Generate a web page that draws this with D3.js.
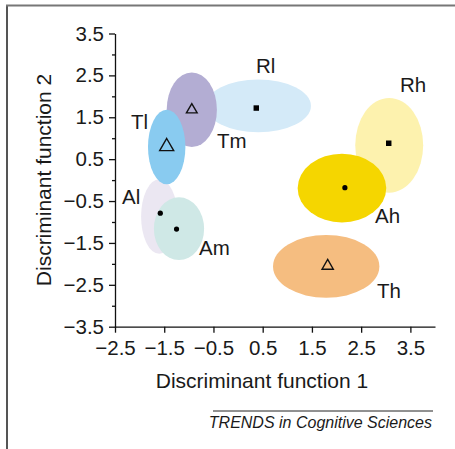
<!DOCTYPE html>
<html>
<head>
<meta charset="utf-8">
<script src="https://cdn.jsdelivr.net/npm/d3@7"></script>
<style>
  body { margin: 0; background: #fff; }
  svg text { font-family: 'Liberation Sans', Arial, sans-serif; fill: #1a1a1a; }
</style>
</head>
<body>
<svg width="455" height="449"></svg>
<script>
// group names, in drawing order (back to front)
const groups = ['Rl', 'Tm', 'Al', 'Tl', 'Am', 'Rh', 'Ah', 'Th'];

// ellipse centres and half-widths, in discriminant units
const ellipseX = [0.41, -0.94, -1.6, -1.45, -1.2, 3.07, 2.11, 1.79];
const ellipseY = [1.77, 1.68, -0.87, 0.79, -1.16, 0.83, -0.19, -2.06];
const ellipseRx = [1.07, 0.51, 0.37, 0.38, 0.51, 0.69, 0.9, 1.08];
const ellipseRy = [0.63, 0.89, 0.89, 0.89, 0.75, 1.13, 0.82, 0.75];

// group means (marker positions)
const meanX = [0.37, -0.94, -1.58, -1.45, -1.25, 3.06, 2.17, 1.82];
const meanY = [1.72, 1.68, -0.79, 0.8, -1.17, 0.88, -0.18, -2.05];

const xTicks = [-2.5, -1.5, -0.5, 0.5, 1.5, 2.5, 3.5];
const yTicks = [-3.5, -2.5, -1.5, -0.5, 0.5, 1.5, 2.5, 3.5];
const yMinor = [-3, -2, -1, 0, 1, 2, 3];

const style = {
  Rl: { fill: '#d4eaf8', marker: 'square', lx: 256, ly: 73 },
  Tm: { fill: '#b3add3', marker: 'triangle', size: 50, lx: 217, ly: 148 },
  Al: { fill: '#ebe7f2', marker: 'dot', lx: 122, ly: 204 },
  Tl: { fill: '#89cbf0', marker: 'triangle', size: 85, lx: 131, ly: 129 },
  Am: { fill: '#cfe8e6', marker: 'dot', lx: 199, ly: 255 },
  Rh: { fill: '#fdf2ae', marker: 'square', lx: 400, ly: 92 },
  Ah: { fill: '#f5d600', marker: 'dot', lx: 375, ly: 223 },
  Th: { fill: '#f5bd80', marker: 'triangle', size: 55, lx: 377, ly: 298 }
};

const svg = d3.select('svg');

const x = d3.scaleLinear().domain([-2.5, 4.0]).range([115, 435]);
const y = d3.scaleLinear().domain([-3.5, 3.5]).range([326.7, 33.5]);
const fmt = d3.format('.1f');

// frame
svg.append('line')
  .attr('x1', 7).attr('x2', 7).attr('y1', 5).attr('y2', 449)
  .attr('stroke', '#555').attr('stroke-width', 2);
svg.append('line')
  .attr('x1', 6).attr('x2', 455).attr('y1', 5.5).attr('y2', 5.5)
  .attr('stroke', '#777').attr('stroke-width', 2);

// ellipses
const g = svg.append('g');
groups.forEach(function (name, i) {
  g.append('ellipse')
    .attr('cx', x(ellipseX[i]))
    .attr('cy', y(ellipseY[i]))
    .attr('rx', x(ellipseRx[i]) - x(0))
    .attr('ry', y(0) - y(ellipseRy[i]))
    .attr('fill', style[name].fill);
});

// markers
groups.forEach(function (name, i) {
  const s = style[name];
  const px = x(meanX[i]);
  const py = y(meanY[i]);
  if (s.marker === 'triangle') {
    g.append('path')
      .attr('d', d3.symbol().type(d3.symbolTriangle).size(s.size)())
      .attr('transform', `translate(${px},${py})`)
      .attr('fill', 'none')
      .attr('stroke', '#111')
      .attr('stroke-width', 1.4);
  } else if (s.marker === 'square') {
    g.append('path')
      .attr('d', d3.symbol().type(d3.symbolSquare).size(30)())
      .attr('transform', `translate(${px},${py})`)
      .attr('fill', '#000');
  } else {
    g.append('circle')
      .attr('cx', px).attr('cy', py).attr('r', 2.6)
      .attr('fill', '#000');
  }
  svg.append('text')
    .attr('x', s.lx).attr('y', s.ly)
    .style('font-size', '20.5px')
    .text(name);
});

// y axis
svg.append('g')
  .attr('transform', `translate(${x(-2.5)},0)`)
  .call(d3.axisLeft(y).tickValues(yTicks).tickFormat(fmt).tickSize(6).tickSizeOuter(0).tickPadding(5));
svg.append('g')
  .attr('transform', `translate(${x(-2.5)},0)`)
  .call(d3.axisLeft(y).tickValues(yMinor).tickFormat('').tickSize(3).tickSizeOuter(0))
  .select('.domain').remove();

// x axis
svg.append('g')
  .attr('transform', `translate(0,${y(-3.5)})`)
  .call(d3.axisBottom(x).tickValues(xTicks).tickFormat(fmt).tickSize(6).tickSizeOuter(0).tickPadding(8));

svg.selectAll('.tick text')
  .style('font-size', '20.5px')
  .style('font-family', "'Liberation Sans', Arial, sans-serif")
  .attr('fill', '#1a1a1a');
svg.selectAll('.domain, .tick line').attr('stroke', '#111').attr('stroke-width', 1.3);

// axis titles
svg.append('text')
  .attr('x', 262).attr('y', 388)
  .attr('text-anchor', 'middle')
  .style('font-size', '21px')
  .text('Discriminant function 1');

svg.append('text')
  .attr('transform', 'translate(51,180) rotate(-90)')
  .attr('text-anchor', 'middle')
  .style('font-size', '21px')
  .text('Discriminant function 2');

// journal footer
svg.append('line')
  .attr('x1', 213).attr('x2', 433).attr('y1', 411).attr('y2', 411)
  .attr('stroke', '#222').attr('stroke-width', 1);
svg.append('text')
  .attr('x', 432).attr('y', 428)
  .attr('text-anchor', 'end')
  .style('font-size', '16px')
  .style('font-style', 'italic')
  .text('TRENDS in Cognitive Sciences');
</script>
</body>
</html>
